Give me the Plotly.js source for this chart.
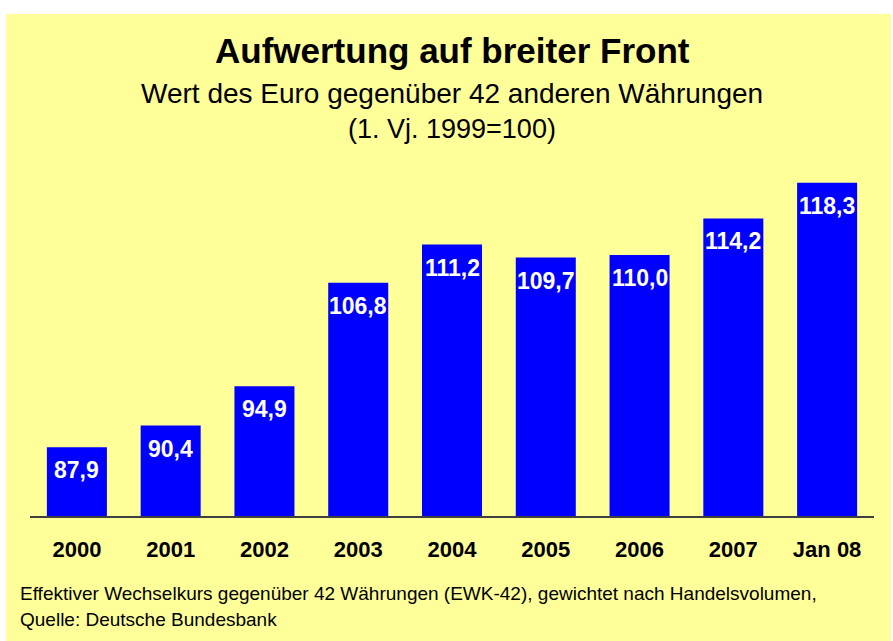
<!DOCTYPE html>
<html>
<head>
<meta charset="utf-8">
<script src="https://cdn.plot.ly/plotly-3.0.1.min.js"></script>
<style>
html,body{margin:0;padding:0;background:#ffffff;}
#chart{position:absolute;left:6px;top:14px;width:885px;height:627px;}
</style>
</head>
<body>
<div id="chart"></div>
<script>
const categories = ["2000","2001","2002","2003","2004","2005","2006","2007","Jan 08"];
const values = [87.9, 90.4, 94.9, 106.8, 111.2, 109.7, 110.0, 114.2, 118.3];
const valueLabels = ["87,9","90,4","94,9","106,8","111,2","109,7","110,0","114,2","118,3"];

const FONT = "Arial, 'Liberation Sans', sans-serif";

// pixel -> paper helpers (plot area: abs y 168..516, abs x 30..874)
const pyTop = 168, pyBot = 516, pxL = 30, pxR = 874;
const py = Y => (pyBot - Y) / (pyBot - pyTop);
const px = X => (X - pxL) / (pxR - pxL);

const annotations = [];
annotations.push({xref:'paper', yref:'paper', x:0.5, y:py(51), xanchor:'center', yanchor:'middle',
  text:'<b>Aufwertung auf breiter Front</b>', showarrow:false, font:{family:FONT, size:35, color:'#000'}});
annotations.push({xref:'paper', yref:'paper', x:0.5, y:py(93), xanchor:'center', yanchor:'middle',
  text:'Wert des Euro gegenüber 42 anderen Währungen', showarrow:false, font:{family:FONT, size:28, color:'#000'}});
annotations.push({xref:'paper', yref:'paper', x:0.5, y:py(129), xanchor:'center', yanchor:'middle',
  text:'(1. Vj. 1999=100)', showarrow:false, font:{family:FONT, size:27, color:'#000'}});
annotations.push({xref:'paper', yref:'paper', x:px(18), y:py(593), xanchor:'left', yanchor:'middle',
  text:'Effektiver Wechselkurs gegenüber 42 Währungen (EWK-42), gewichtet nach Handelsvolumen,', showarrow:false, font:{family:FONT, size:19, color:'#000'}});
annotations.push({xref:'paper', yref:'paper', x:px(18), y:py(619), xanchor:'left', yanchor:'middle',
  text:'Quelle: Deutsche Bundesbank', showarrow:false, font:{family:FONT, size:19, color:'#000'}});

categories.forEach((c, i) => {
  annotations.push({xref:'x', yref:'y', x:i, y:values[i], xanchor:'center', yanchor:'top', yshift:-8,
    text:'<b>' + valueLabels[i] + '</b>', showarrow:false, font:{family:FONT, size:23, color:'#ffffff'}});
});

const trace = {
  type:'bar', x:categories, y:values,
  marker:{color:'#0000ff', line:{width:0}},
  hoverinfo:'none'
};

const layout = {
  width:885, height:627,
  margin:{l:pxL-6, r:885-(pxR-6), t:pyTop-14, b:627-(pyBot-14)},
  paper_bgcolor:'#ffff99', plot_bgcolor:'#ffff99',
  bargap:0.36,
  showlegend:false,
  xaxis:{type:'category', range:[-0.5, categories.length-0.5], autorange:false, showline:true, linecolor:'#404040', linewidth:2, ticks:'', showgrid:false,
    zeroline:false, tickfont:{family:FONT, size:22, color:'#000', weight:'bold'}, ticklabelstandoff:13, fixedrange:true},
  yaxis:{range:[80,120], autorange:false, showgrid:false, zeroline:false, showticklabels:false, ticks:'', showline:false, fixedrange:true},
  annotations:annotations
};

Plotly.newPlot('chart', [trace], layout, {displayModeBar:false, staticPlot:true});
</script>
</body>
</html>
